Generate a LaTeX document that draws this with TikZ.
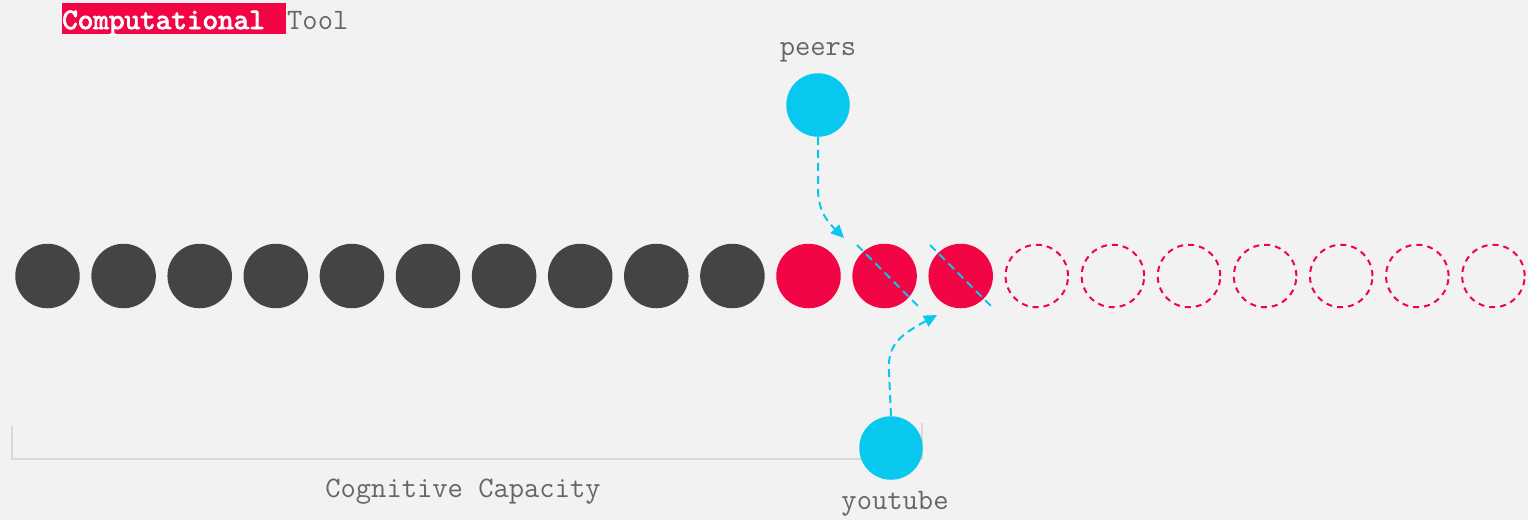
\documentclass[tikz,border=0pt]{standalone}
\usepackage{fontspec}
\newfontfamily\ttbold[FakeBold=3]{lmmono10-regular.otf}
\usetikzlibrary{arrows.meta}
\definecolor{bg}{HTML}{F2F2F2}
\definecolor{dk}{HTML}{444444}
\definecolor{rd}{HTML}{F20544}
\definecolor{cy}{HTML}{08C8F0}
\definecolor{tx}{HTML}{666666}
\definecolor{br}{HTML}{D9D9D9}
\tikzset{
  dot/.style={circle, minimum size=64.5pt, inner sep=0pt},
  full/.style={dot, fill=dk},
  hot/.style={dot, fill=rd},
  empty/.style={dot, draw=rd, line width=2pt, dash pattern=on 6pt off 5pt, minimum size=62.5pt},
  src/.style={dot, fill=cy, minimum size=63.5pt},
  lbl/.style={font=\ttfamily\fontsize{29.7}{32}\selectfont, text=tx, anchor=base, inner sep=0pt},
  flow/.style={draw=cy, line width=2pt, dash pattern=on 8pt off 5pt, -{Triangle[length=13pt,width=12pt]}},
  cut/.style={draw=cy, line width=2pt, dash pattern=on 8pt off 5pt},
  brace/.style={draw=br, line width=2pt}
}
\begin{document}
\begin{tikzpicture}[x=1pt,y=-1pt]
\fill[bg] (0,0) rectangle (1528,520);
% title
\node[fill=rd, text=white, font=\ttbold\fontsize{29.7}{32}\selectfont, anchor=base west, inner sep=0pt, text height=26pt, text depth=5pt, text width=224pt, align=left] (ttl) at (62,29) {Computational};
\node[lbl, anchor=base west] (tool) at (287,29) {Tool};
% bracket
\coordinate (b1) at (12,426);
\coordinate (b2) at (12,459);
\coordinate (b3) at (922,459);
\coordinate (b4) at (922,423);
\draw[brace] (b1) -- (b2) -- (b3) -- (b4);
\node[lbl] (cap) at (463,497) {Cognitive Capacity};
% circles
\foreach \i in {0,...,9} \node[full] (c\i) at ({47.5+76.1*\i},276) {};
\foreach \i in {10,11,12} \node[hot] (c\i) at ({47.5+76.1*\i},276) {};
\foreach \i in {13,...,19} \node[empty] (c\i) at ({47.5+76.1*\i},276) {};
% diagonal cuts
\coordinate (d1a) at (857,245);
\coordinate (d1b) at (920,308);
\coordinate (d2a) at (930,245);
\coordinate (d2b) at (993,308);
\draw[cut] (d1a) -- (d1b);
\draw[cut] (d2a) -- (d2b);
% sources
\node[src] (peers) at (818,105) {};
\node[lbl] (peerslbl) at (818,55) {peers};
\node[src] (yt) at (891,448) {};
\node[lbl] (ytlbl) at (895,509) {youtube};
\coordinate (pa) at (844,238);
\coordinate (ya) at (937,315);
\draw[flow] (peers.south) -- (818,188) .. controls (818,212) and (828,222) .. (pa);
\draw[flow] (yt.north) -- (889,372) .. controls (887,345) and (900,335) .. (ya);
\end{tikzpicture}
\end{document}
